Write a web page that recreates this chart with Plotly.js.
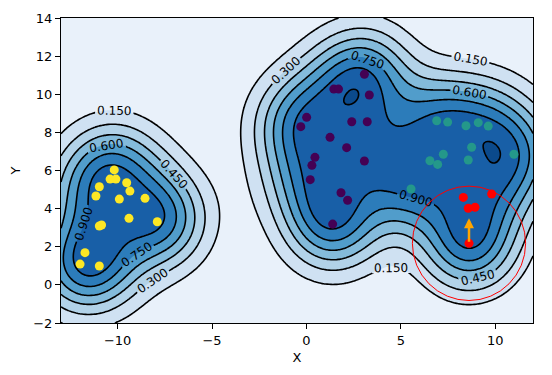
<!DOCTYPE html>
<html><head><meta charset="utf-8">
<script src="https://cdn.plot.ly/plotly-3.0.1.min.js"></script>
<style>html,body{margin:0;padding:0;background:#fff}#chart{width:552px;height:375px}</style>
</head><body><div id="chart"></div>
<script>
// ---- data ----
const yellowX = [-10.18, -10.40, -10.09, -9.52, -9.35, -10.97, -11.15, -9.91, -8.55, -9.40, -7.90, -10.97, -10.85, -11.73, -11.99, -10.97];
const yellowY = [6.03, 5.55, 5.55, 5.36, 4.92, 5.15, 4.66, 4.50, 4.54, 3.49, 3.31, 3.09, 3.14, 1.69, 1.09, 0.99];
const purpleX = [3.07, 1.45, 1.70, 3.33, 0.01, -0.30, 2.40, 3.22, 1.25, 2.13, 0.45, 0.29, 3.07, 0.20, 1.83, 2.18, 1.39];
const purpleY = [11.05, 10.27, 10.27, 9.96, 8.79, 8.30, 8.56, 8.56, 7.74, 7.20, 6.69, 6.27, 6.50, 5.52, 4.83, 4.44, 3.19];
const tealX = [6.90, 7.48, 8.45, 9.10, 9.63, 8.75, 7.25, 6.54, 6.95, 8.57, 10.99, 5.54];
const tealY = [8.61, 8.54, 8.35, 8.51, 8.33, 7.22, 6.85, 6.51, 6.32, 6.55, 6.85, 5.03];
const redX = [8.31, 9.81, 8.57, 8.93, 8.61];
const redY = [4.59, 4.77, 4.02, 4.07, 2.18];
const contourLevels = [0.15, 0.30, 0.45, 0.60, 0.75, 0.90, 1.05];
const xTicks = [-10, -5, 0, 5, 10];
const yTicks = [-2, 0, 2, 4, 6, 8, 10, 12, 14];
const circleCenter = [8.61, 2.18];
const circleRadius = 3;
const arrowFrom = [8.61, 2.18];
const arrowTo = [8.61, 3.50];

// ---- smooth field fitted through all points (kernel regression, target 1 at each point) ----
const allX = [].concat(yellowX, purpleX, tealX, redX);
const allY = [].concat(yellowY, purpleY, tealY, redY);
const ell = 1.75, noise = 0.07;
const n = allX.length;
function kern(ax, ay, bx, by) { const dx = ax - bx, dy = ay - by; return Math.exp(-(dx*dx + dy*dy) / (2*ell*ell)); }
const A = [];
for (let i = 0; i < n; i++) { const row = []; for (let j = 0; j < n; j++) row.push(kern(allX[i], allY[i], allX[j], allY[j]) + (i === j ? noise : 0)); row.push(1); A.push(row); }
for (let c = 0; c < n; c++) {
  let p = c; for (let r = c + 1; r < n; r++) if (Math.abs(A[r][c]) > Math.abs(A[p][c])) p = r;
  [A[c], A[p]] = [A[p], A[c]];
  for (let r = 0; r < n; r++) { if (r === c) continue; const f = A[r][c] / A[c][c]; for (let k = c; k <= n; k++) A[r][k] -= f * A[c][k]; }
}
const alpha = A.map((row, i) => row[n] / row[i]);
const gx = [], gy = [];
for (let x = -13; x <= 12.0001; x += 0.1) gx.push(+x.toFixed(2));
for (let y = -2; y <= 14.0001; y += 0.1) gy.push(+y.toFixed(2));
const gz = gy.map(yv => gx.map(xv => { let s = 0; for (let i = 0; i < n; i++) s += alpha[i] * kern(xv, yv, allX[i], allY[i]); return s; }));

const bandColors = ['#e9f1fa', '#cfe1f2', '#b2d2e8', '#84bbdb', '#519dcb', '#2c7cba', '#185fa7', '#0b4a8c'];
const cs = bandColors.map((c, i) => [i / (bandColors.length - 1), c]);

const font = {family: 'DejaVu Sans, sans-serif', size: 13, color: '#000'};
const traces = [
  {type: 'contour', x: gx, y: gy, z: gz, autocontour: false,
   contours: {start: contourLevels[0], end: contourLevels[contourLevels.length - 1], size: contourLevels[1] - contourLevels[0],
              coloring: 'fill', showlabels: true, labelformat: '.3f',
              labelfont: {family: 'DejaVu Sans, sans-serif', size: 12, color: '#000'}},
   line: {color: '#000', width: 1.6, smoothing: 1}, colorscale: cs, showscale: false, hoverinfo: 'skip'},
  {type: 'scatter', mode: 'markers', x: yellowX, y: yellowY, marker: {color: '#fde725', size: 9}, hoverinfo: 'skip'},
  {type: 'scatter', mode: 'markers', x: purpleX, y: purpleY, marker: {color: '#440154', size: 9}, hoverinfo: 'skip'},
  {type: 'scatter', mode: 'markers', x: tealX, y: tealY, marker: {color: '#24988a', size: 9}, hoverinfo: 'skip'},
  {type: 'scatter', mode: 'markers', x: redX, y: redY, marker: {color: '#ff0000', size: 9}, hoverinfo: 'skip'}
];
const axisCommon = {showgrid: false, zeroline: false, showline: true, mirror: true, linecolor: '#000', linewidth: 1,
  ticks: 'outside', ticklen: 5, tickwidth: 1, tickcolor: '#000', tickfont: font};
const layout = {
  width: 552, height: 375, showlegend: false,
  margin: {l: 61, r: 19, t: 18, b: 52},
  paper_bgcolor: '#fff', plot_bgcolor: bandColors[0],
  font: font,
  xaxis: Object.assign({}, axisCommon, {range: [-13, 12], tickvals: xTicks, title: {text: 'X', font: font, standoff: 6}}),
  yaxis: Object.assign({}, axisCommon, {range: [-2, 14], tickvals: yTicks, title: {text: 'Y', font: font, standoff: 9}}),
  shapes: [{type: 'circle', xref: 'x', yref: 'y',
    x0: circleCenter[0] - circleRadius, x1: circleCenter[0] + circleRadius,
    y0: circleCenter[1] - circleRadius, y1: circleCenter[1] + circleRadius,
    line: {color: '#ff0000', width: 1}}],
  annotations: [{x: arrowTo[0], y: arrowTo[1], ax: arrowFrom[0], ay: arrowFrom[1], xref: 'x', yref: 'y', axref: 'x', ayref: 'y',
    text: '', showarrow: true, arrowhead: 2, arrowsize: 0.8, arrowwidth: 2.5, arrowcolor: '#ffa500'}]
};
Plotly.newPlot('chart', traces, layout, {staticPlot: true, displayModeBar: false});
</script></body></html>
